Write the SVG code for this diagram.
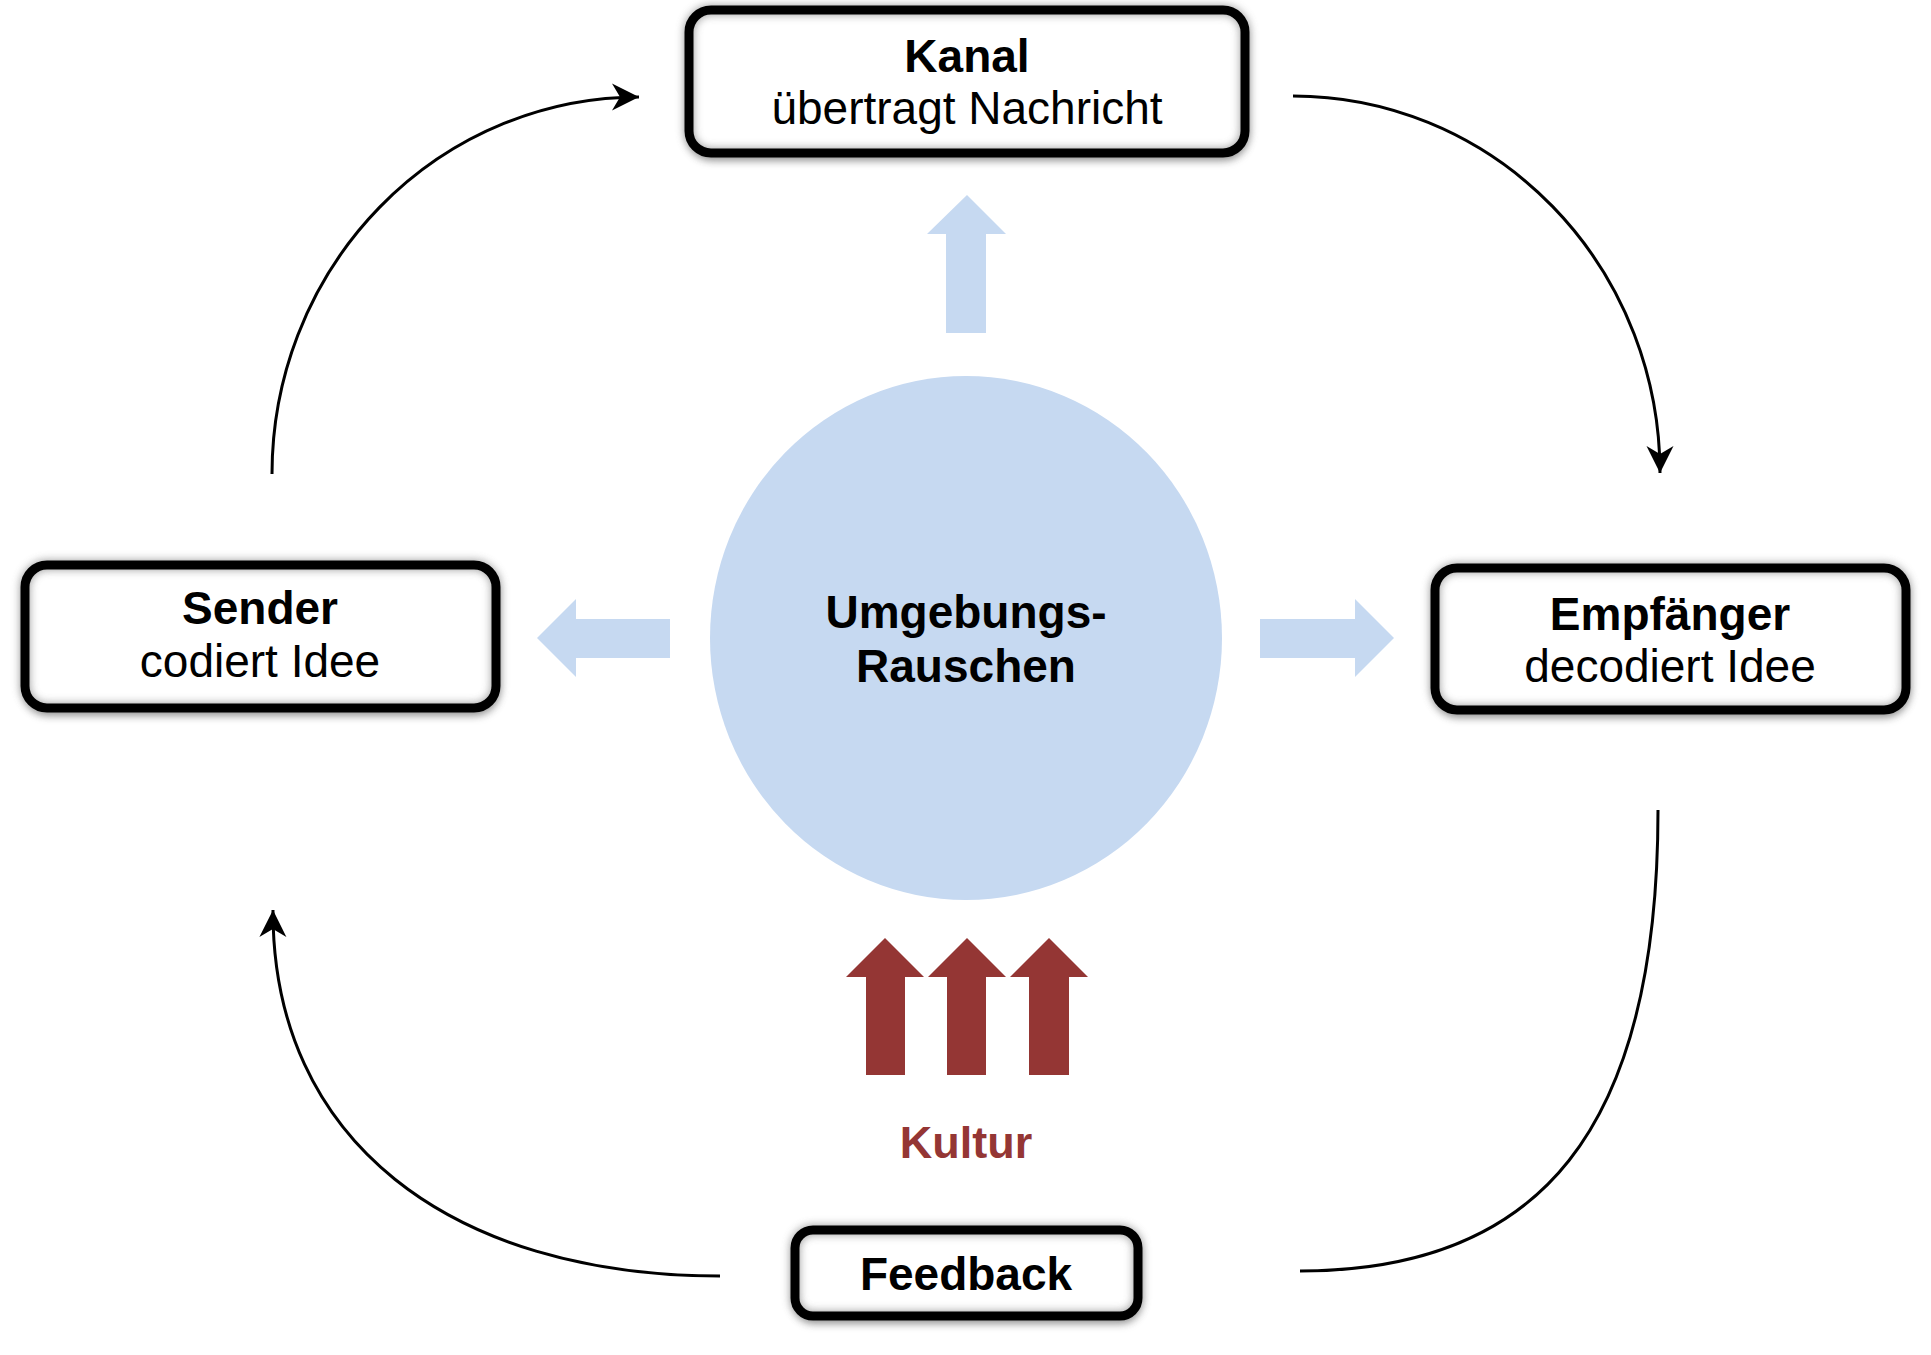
<svg xmlns="http://www.w3.org/2000/svg" width="1931" height="1355" viewBox="0 0 1931 1355">
  <defs>
    <filter id="shadow" x="-10%" y="-20%" width="120%" height="150%">
      <feDropShadow dx="1" dy="7" stdDeviation="5" flood-color="#000" flood-opacity="0.35"/>
    </filter>
    <filter id="glow" x="-10%" y="-20%" width="120%" height="140%">
      <feGaussianBlur stdDeviation="4"/>
    </filter>
    <marker id="arrow" viewBox="-30 -16 32 32" refX="0" refY="0" markerWidth="32" markerHeight="32" markerUnits="userSpaceOnUse" orient="auto">
      <path d="M0,0 L-27,-13.5 L-19,0 L-27,13.5 Z" fill="#000"/>
    </marker>
    <style>
      .box { fill: #fff; filter: url(#shadow); }
      .inner { fill: none; stroke: #8a8a8a; stroke-width: 10; filter: url(#glow); opacity: 0.8; }
      .frame { fill: none; stroke: #000; stroke-width: 9; }
      .title { font-family: "Liberation Sans", Arial, sans-serif; font-weight: bold; font-size: 46px; fill: #000; text-anchor: middle; }
      .sub { font-family: "Liberation Sans", Arial, sans-serif; font-size: 46px; fill: #000; text-anchor: middle; }
      .conn { fill: none; stroke: #000; stroke-width: 3; }
      .blue { fill: #C6D9F1; }
      .red { fill: #943634; }
    </style>
  </defs>

  <g id="connectors">
    <path class="conn" d="M272,474 A367,377 0 0 1 639,97" marker-end="url(#arrow)"/>
    <path class="conn" d="M1293,96 A367,377 0 0 1 1660,473" marker-end="url(#arrow)"/>
    <path class="conn" d="M1658,810 C1658,1130 1540,1271 1300,1271"/>
    <path class="conn" d="M720,1276 C450,1276 272,1140 273,910" marker-end="url(#arrow)"/>
  </g>

  <g id="noise">
    <ellipse cx="966" cy="638" rx="256" ry="262" class="blue"/>
    <text class="title" x="966" y="628">Umgebungs-</text>
    <text class="title" x="966" y="682">Rauschen</text>
  </g>

  <g id="noise-arrows">
    <polygon class="blue" points="967,195 1006,234 986,234 986,333 946,333 946,234 927,234"/>
    <polygon class="blue" points="537,638 576,599 576,619 670,619 670,658 576,658 576,677"/>
    <polygon class="blue" points="1394,638 1355,599 1355,619 1260,619 1260,658 1355,658 1355,677"/>
  </g>

  <g id="kultur">
    <polygon class="red" points="885,938 924,977 905,977 905,1075 866,1075 866,977 846,977"/>
    <polygon class="red" points="967,938 1006,977 986,977 986,1075 947,1075 947,977 928,977"/>
    <polygon class="red" points="1049,938 1088,977 1069,977 1069,1075 1029,1075 1029,977 1010,977"/>
    <text x="966" y="1158" font-family="Liberation Sans, Arial, sans-serif" font-weight="bold" font-size="45" fill="#943634" text-anchor="middle">Kultur</text>
  </g>

  <g id="kanal">
    <rect class="box" x="689" y="10" width="556" height="143" rx="22"/>
    <rect class="inner" x="689" y="10" width="556" height="143" rx="22"/>
    <rect class="frame" x="689" y="10" width="556" height="143" rx="22"/>
    <text class="title" x="967" y="72">Kanal</text>
    <text class="sub" x="967" y="124">übertragt Nachricht</text>
  </g>

  <g id="sender">
    <rect class="box" x="25" y="565" width="471" height="143" rx="22"/>
    <rect class="inner" x="25" y="565" width="471" height="143" rx="22"/>
    <rect class="frame" x="25" y="565" width="471" height="143" rx="22"/>
    <text class="title" x="260" y="624">Sender</text>
    <text class="sub" x="260" y="677">codiert Idee</text>
  </g>

  <g id="empfaenger">
    <rect class="box" x="1435" y="568" width="471" height="142" rx="22"/>
    <rect class="inner" x="1435" y="568" width="471" height="142" rx="22"/>
    <rect class="frame" x="1435" y="568" width="471" height="142" rx="22"/>
    <text class="title" x="1670" y="630">Empfänger</text>
    <text class="sub" x="1670" y="682">decodiert Idee</text>
  </g>

  <g id="feedback">
    <rect class="box" x="795" y="1230" width="343" height="86" rx="18"/>
    <rect class="inner" x="795" y="1230" width="343" height="86" rx="18"/>
    <rect class="frame" x="795" y="1230" width="343" height="86" rx="18"/>
    <text class="title" x="966" y="1290">Feedback</text>
  </g>
</svg>
